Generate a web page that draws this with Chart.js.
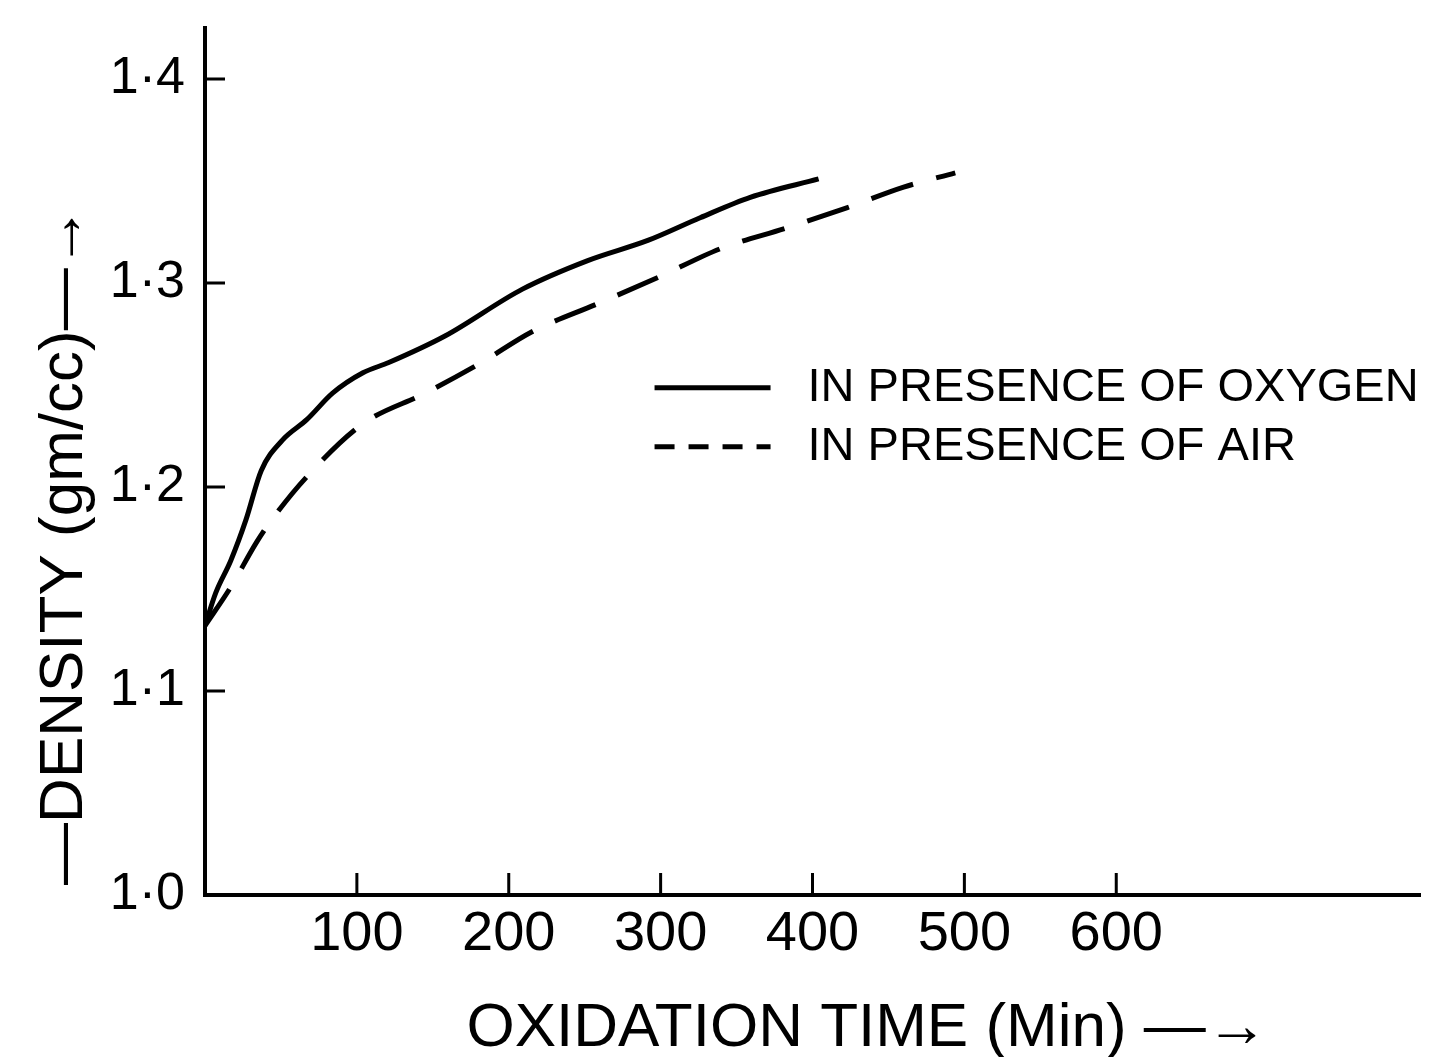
<!DOCTYPE html>
<html>
<head>
<meta charset="utf-8">
<title>Density vs oxidation time</title>
<script src="https://cdn.jsdelivr.net/npm/chart.js@4.4.1/dist/chart.umd.min.js"></script>
<style>
  html, body { margin: 0; padding: 0; background: #fff; }
  #wrap { width: 1438px; height: 1057px; }
</style>
</head>
<body>
<div id="wrap"><canvas id="densityChart" width="1438" height="1057"></canvas></div>
<script>
// density (gm/cc) read against oxidation time (min)
const oxygenTime = [0, 7, 17, 27, 37, 51, 67, 84, 104, 121, 158, 209, 252, 292, 326, 359, 404];
const oxygenDensity = [1.132, 1.148, 1.164, 1.184, 1.208, 1.223, 1.233, 1.246, 1.256, 1.261, 1.274, 1.297, 1.311, 1.321, 1.332, 1.342, 1.351];

const airTime = [0, 17, 34, 44, 67, 104, 145, 182, 215, 259, 299, 340, 383, 423, 460, 494];
const airDensity = [1.132, 1.151, 1.173, 1.184, 1.205, 1.231, 1.246, 1.261, 1.276, 1.290, 1.303, 1.317, 1.327, 1.337, 1.347, 1.354];

const xTicks = [100, 200, 300, 400, 500, 600];
const yTicks = [1.0, 1.1, 1.2, 1.3, 1.4];
const yTickLabels = ['1·0', '1·1', '1·2', '1·3', '1·4'];

const seriesNames = ['IN PRESENCE OF OXYGEN', 'IN PRESENCE OF AIR'];
const xTitle = 'OXIDATION TIME (Min) —→';
const yTitle = '—DENSITY (gm/cc)—→';

const FONT = "'Liberation Sans', Arial, sans-serif";

function toPoints(xs, ys) {
  return xs.map((x, i) => ({ x: x, y: ys[i] }));
}

// tick marks point into the plot, so draw them by hand from the scales
const innerTicks = {
  id: 'innerTicks',
  afterDraw(chart) {
    const { ctx, chartArea, scales: { x, y } } = chart;
    ctx.save();
    ctx.strokeStyle = '#000';
    ctx.lineWidth = 3;
    ctx.beginPath();
    xTicks.forEach(v => {
      const px = x.getPixelForValue(v);
      ctx.moveTo(px, chartArea.bottom);
      ctx.lineTo(px, chartArea.bottom - 22);
    });
    yTicks.slice(1).forEach(v => {
      const py = y.getPixelForValue(v);
      ctx.moveTo(chartArea.left, py);
      ctx.lineTo(chartArea.left + 20, py);
    });
    ctx.stroke();
    ctx.restore();
  }
};

// key sits inside the plot, right of the curves
const insideLegend = {
  id: 'insideLegend',
  afterDraw(chart) {
    const { ctx, chartArea } = chart;
    const w = chartArea.right - chartArea.left;
    const h = chartArea.bottom - chartArea.top;
    const lx = chartArea.left + 0.37 * w;
    let ly = chartArea.top + 0.415 * h;
    ctx.save();
    ctx.font = '47px ' + FONT;
    ctx.fillStyle = '#000';
    ctx.textBaseline = 'middle';
    chart.data.datasets.forEach(ds => {
      ctx.strokeStyle = ds.borderColor;
      ctx.lineWidth = ds.borderWidth;
      ctx.setLineDash(ds.borderDash ? [20, 14] : []);
      ctx.beginPath();
      ctx.moveTo(lx, ly);
      ctx.lineTo(lx + 116, ly);
      ctx.stroke();
      ctx.fillText(ds.label, lx + 153, ly);
      ly += 59;
    });
    ctx.restore();
  }
};

// axis captions with their arrows
const axisCaptions = {
  id: 'axisCaptions',
  afterDraw(chart) {
    const { ctx, chartArea } = chart;
    const w = chartArea.right - chartArea.left;
    const h = chartArea.bottom - chartArea.top;
    ctx.save();
    ctx.fillStyle = '#000';
    ctx.font = '62px ' + FONT;
    ctx.textAlign = 'center';
    ctx.textBaseline = 'middle';
    ctx.fillText(xTitle, chartArea.left + 0.545 * w, chart.height - 28);
    ctx.translate(65, chartArea.top + 0.597 * h);
    ctx.rotate(-Math.PI / 2);
    ctx.fillText(yTitle, 0, 0);
    ctx.restore();
  }
};

new Chart(document.getElementById('densityChart'), {
  type: 'line',
  data: {
    datasets: [
      {
        label: seriesNames[0],
        data: toPoints(oxygenTime, oxygenDensity),
        borderColor: '#000',
        borderWidth: 5,
        pointRadius: 0,
        cubicInterpolationMode: 'monotone',
        fill: false
      },
      {
        label: seriesNames[1],
        data: toPoints(airTime, airDensity),
        borderColor: '#000',
        borderWidth: 5,
        borderDash: [44, 24],
        pointRadius: 0,
        cubicInterpolationMode: 'monotone',
        fill: false
      }
    ]
  },
  options: {
    responsive: false,
    animation: false,
    devicePixelRatio: 1,
    layout: { padding: { left: 0, right: 18, top: 28, bottom: 0 } },
    plugins: {
      legend: { display: false },
      tooltip: { enabled: false }
    },
    scales: {
      x: {
        type: 'linear',
        min: 0,
        max: 800,
        afterBuildTicks: s => { s.ticks = xTicks.map(v => ({ value: v })); },
        afterFit: s => { s.height = 162; s.paddingLeft = 0; s.paddingRight = 0; },
        grid: { display: false, drawTicks: false },
        border: { color: '#000', width: 4 },
        ticks: {
          color: '#000',
          font: { family: FONT, size: 56, lineHeight: 1 },
          padding: 12,
          maxRotation: 0,
          autoSkip: false,
          callback: v => String(v)
        }
      },
      y: {
        type: 'linear',
        min: 1.0,
        max: 1.425,
        afterBuildTicks: s => { s.ticks = yTicks.map(v => ({ value: v })); },
        afterFit: s => { s.width = 205; s.paddingTop = 0; s.paddingBottom = 0; },
        grid: { display: false, drawTicks: false },
        border: { color: '#000', width: 4 },
        ticks: {
          color: '#000',
          font: { family: FONT, size: 52, lineHeight: 1 },
          padding: 20,
          autoSkip: false,
          callback: v => yTickLabels[yTicks.findIndex(t => Math.abs(t - v) < 1e-6)]
        }
      }
    }
  },
  plugins: [innerTicks, insideLegend, axisCaptions]
});
</script>
</body>
</html>
